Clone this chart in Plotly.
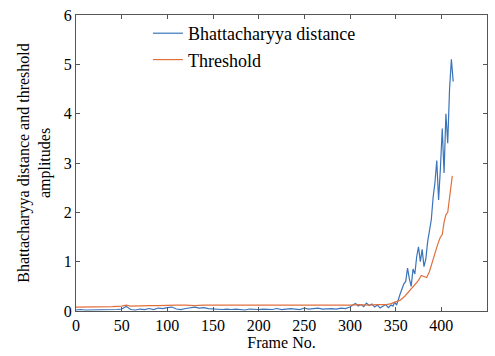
import plotly.graph_objects as go

# Bhattacharyya distance series
bd_frames = [0, 5, 10, 15, 20, 25, 30, 35, 40, 45, 50, 55, 60, 65, 70, 75, 80, 85, 90, 95,
             100, 105, 110, 115, 120, 125, 130, 135, 140, 145, 150, 155, 160, 165, 170, 175,
             180, 185, 190, 195, 200, 205, 210, 215, 220, 225, 230, 235, 240, 245, 250, 255,
             260, 265, 270, 275, 280, 285, 290, 295,
             300, 303, 306, 309, 312, 315, 318, 321, 324, 327, 330, 333, 336, 339, 342, 345,
             347, 349, 351, 353, 355, 357, 359, 361, 363, 365, 367, 369, 371, 373, 375, 377,
             379, 381, 383, 385, 387, 389, 391, 393, 395, 397, 399, 401, 403, 405, 407, 409,
             411, 413]
bd_values = [0.02, 0.03, 0.02, 0.02, 0.03, 0.02, 0.03, 0.02, 0.02, 0.03, 0.04, 0.09, 0.03, 0.02,
             0.04, 0.03, 0.05, 0.03, 0.06, 0.05, 0.07, 0.08, 0.04, 0.03, 0.05, 0.07, 0.08, 0.06,
             0.07, 0.05, 0.04, 0.03, 0.03, 0.04, 0.03, 0.04, 0.03, 0.02, 0.04, 0.03, 0.03, 0.04,
             0.03, 0.03, 0.05, 0.03, 0.04, 0.05, 0.04, 0.03, 0.06, 0.04, 0.05, 0.06, 0.04, 0.05,
             0.05, 0.04, 0.06, 0.05,
             0.08, 0.12, 0.15, 0.10, 0.13, 0.09, 0.16, 0.11, 0.14, 0.08, 0.12, 0.06, 0.10, 0.13,
             0.07, 0.12,
             0.10, 0.18, 0.12, 0.25, 0.35, 0.45, 0.55, 0.60, 0.87, 0.65, 0.50, 0.85, 0.75, 1.10,
             1.30, 1.00, 1.25, 0.90, 1.05, 1.40, 1.60, 1.85, 2.30, 2.60, 3.05, 2.25, 2.90, 3.70,
             2.80, 4.00, 3.40, 4.50, 5.10, 4.65]

# Threshold series
th_frames = [0, 10, 20, 30, 40, 50, 55, 60, 70, 80, 90, 100, 110, 120, 130, 140, 150, 160,
             170, 180, 190, 200, 210, 220, 230, 240, 250, 260, 270, 280, 290, 300, 310, 320,
             330, 340, 345, 350, 355, 360, 365, 370, 375, 378, 381, 384, 387, 390, 393, 396,
             399, 401, 403, 405, 407, 409, 411, 412]
th_values = [0.08, 0.08, 0.09, 0.09, 0.09, 0.10, 0.12, 0.10, 0.11, 0.11, 0.11, 0.12, 0.12,
             0.12, 0.11, 0.12, 0.12, 0.11, 0.12, 0.11, 0.11, 0.11, 0.11, 0.11, 0.11, 0.12,
             0.12, 0.11, 0.12, 0.12, 0.12, 0.12, 0.13, 0.12, 0.13, 0.13, 0.15, 0.18, 0.22,
             0.30, 0.40, 0.50, 0.62, 0.72, 0.70, 0.68, 0.80, 1.00, 1.20, 1.35, 1.50, 1.55,
             1.80, 1.95, 2.00, 2.30, 2.60, 2.74]

x_ticks = [0, 50, 100, 150, 200, 250, 300, 350, 400, 450]
y_ticks = [0, 1, 2, 3, 4, 5, 6]

FONT = "Liberation Serif, Times New Roman, serif"

fig = go.Figure()
fig.add_trace(go.Scatter(x=bd_frames, y=bd_values, mode="lines",
                         name="Bhattacharyya distance",
                         line=dict(color="#3a74ba", width=1.2)))
fig.add_trace(go.Scatter(x=th_frames, y=th_values, mode="lines",
                         name="Threshold",
                         line=dict(color="#e2703f", width=1.2)))

axis_common = dict(showgrid=False, zeroline=False, showline=True, linecolor="#555555",
                   linewidth=1, mirror="ticks", ticks="inside", ticklen=4,
                   tickcolor="#555555", tickfont=dict(family=FONT, size=16, color="black"))

fig.update_layout(
    width=495, height=356,
    margin=dict(l=76, r=7, t=13, b=45),
    paper_bgcolor="white", plot_bgcolor="white",
    font=dict(family=FONT, color="black"),
    xaxis=dict(range=[0, 450], tickvals=x_ticks, ticktext=[str(v) for v in x_ticks],
               title=dict(text="Frame No.", font=dict(family=FONT, size=16), standoff=1),
               **axis_common),
    yaxis=dict(range=[0, 6], tickvals=y_ticks, ticktext=[str(v) for v in y_ticks],
               title=dict(text="Bhattacharyya distance and threshold<br>amplitudes",
                          font=dict(family=FONT, size=16), standoff=9),
               **axis_common),
    legend=dict(x=0.175, y=1.0, xanchor="left", yanchor="top",
                bgcolor="rgba(0,0,0,0)", font=dict(family=FONT, size=18),
                tracegroupgap=0, itemwidth=30),
    showlegend=True,
)

fig.write_html("out.html")
